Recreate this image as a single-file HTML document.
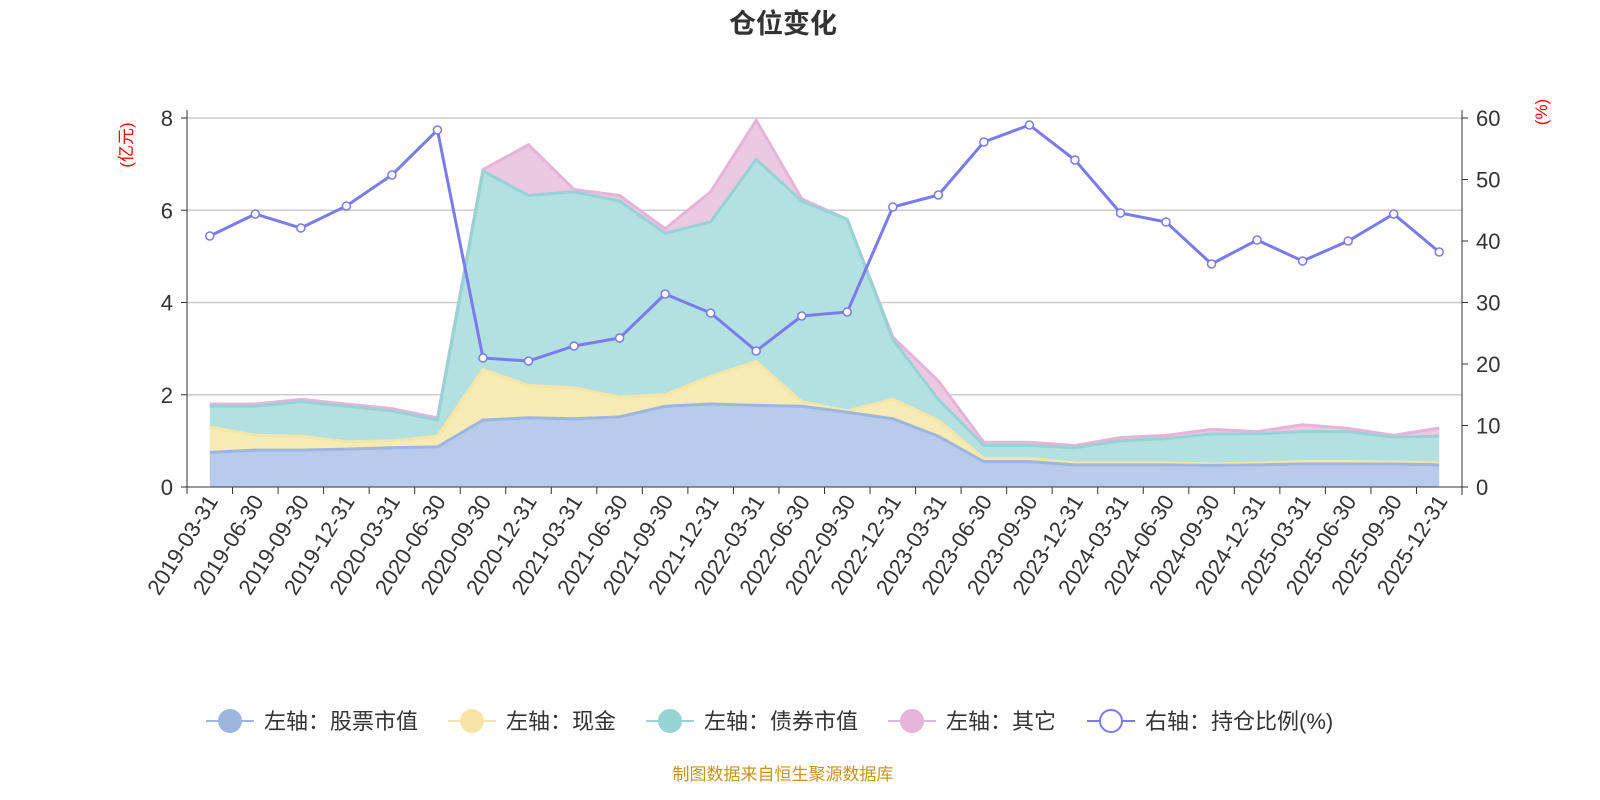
<!DOCTYPE html><html><head><meta charset="utf-8"><style>body{margin:0;background:#fff}svg{display:block}text{font-family:"Liberation Sans","Noto Sans CJK SC",sans-serif}</style></head><body>
<svg id="s" width="1600" height="800" xmlns="http://www.w3.org/2000/svg"></svg>
<script>
const s=document.getElementById('s');
const L=187,R=1462,T=118,B=487,N=28,st=(R-L)/N;
const X=i=>L+st*(i+0.5),Y=v=>B-v*(B-T)/8,YR=p=>B-p*(B-T)/60;
const stock=[0.75,0.8,0.8,0.82,0.85,0.87,1.45,1.5,1.48,1.52,1.75,1.8,1.77,1.75,1.62,1.48,1.1,0.55,0.55,0.48,0.48,0.48,0.47,0.48,0.5,0.5,0.5,0.48];
const cash=[1.3,1.12,1.1,0.98,1.0,1.1,2.55,2.2,2.15,1.95,2.0,2.4,2.72,1.85,1.65,1.9,1.45,0.62,0.62,0.52,0.52,0.52,0.5,0.52,0.55,0.55,0.54,0.52];
const bond=[1.75,1.75,1.85,1.75,1.65,1.45,6.85,6.32,6.4,6.2,5.5,5.75,7.1,6.2,5.8,3.2,1.9,0.9,0.9,0.85,1.0,1.05,1.15,1.15,1.2,1.2,1.08,1.1];
const oth=[1.8,1.8,1.9,1.8,1.7,1.5,6.88,7.42,6.45,6.32,5.6,6.4,7.95,6.25,5.8,3.25,2.3,0.97,0.97,0.9,1.07,1.12,1.25,1.2,1.35,1.27,1.12,1.28];
const ry=[236,214,228,206,175,130,358,361,346,338,294,313,351,316,312,207,195,142,125,160,213,222,264,240,261,241,214,252];
const lab=[];for(let y=2019;y<=2025;y++)for(const d of['03-31','06-30','09-30','12-31'])lab.push(y+'-'+d);
let h='';
h+=`<text x="783" y="33" text-anchor="middle" font-size="27" font-weight="bold" fill="#333">仓位变化</text>`;
for(let v=0;v<=8;v+=2){const y=Y(v);if(v>0)h+=`<line x1="${L}" x2="${R}" y1="${y}" y2="${y}" stroke="#ccc" stroke-width="1.5"/>`;
h+=`<text x="${L-14}" y="${y+8}" text-anchor="end" font-size="22" fill="#333">${v}</text><line x1="${L-6}" x2="${L}" y1="${y}" y2="${y}" stroke="#333"/>`;}
for(let p=0;p<=60;p+=10){const y=YR(p);h+=`<text x="${R+14}" y="${y+8}" font-size="22" fill="#333">${p}</text><line x1="${R}" x2="${R+6}" y1="${y}" y2="${y}" stroke="#333"/>`;}
h+=`<text transform="translate(132,145) rotate(-90)" text-anchor="middle" font-size="17" fill="red">(亿元)</text>`;
h+=`<text transform="translate(1547,112) rotate(-90)" text-anchor="middle" font-size="17" fill="red">(%)</text>`;
function area(top,bot,fill,line){let d='M'+top.map((v,i)=>X(i)+','+Y(v)).join('L');for(let i=N-1;i>=0;i--)d+='L'+X(i)+','+Y(bot?bot[i]:0);
h+=`<path d="${d}Z" fill="${fill}"/><polyline points="${top.map((v,i)=>X(i)+','+Y(v)).join(' ')}" fill="none" stroke="${line}" stroke-width="3"/>`;}
area(oth,bond,'#ecc9e2','#e5b4d8');area(bond,cash,'#b3e0e0','#96d3d3');area(cash,stock,'#f7ebb5','#f5e6a8');area(stock,null,'#b8cbea','#9db6e0');
h+=`<line x1="${L}" x2="${L}" y1="${T-8}" y2="${B}" stroke="#333"/><line x1="${R}" x2="${R}" y1="${T-8}" y2="${B+8}" stroke="#333"/><line x1="${L}" x2="${R}" y1="${B}" y2="${B}" stroke="#333"/>`;
for(let i=0;i<=N;i++){const x=L+st*i;h+=`<line x1="${x}" x2="${x}" y1="${B}" y2="${B+7}" stroke="#333"/>`;}
lab.forEach((t,i)=>{h+=`<text transform="translate(${X(i)+9},${B+14}) rotate(-58)" text-anchor="end" font-size="22" fill="#333">${t}</text>`;});
h+=`<polyline points="${ry.map((y,i)=>X(i)+','+y).join(' ')}" fill="none" stroke="#7b7bf0" stroke-width="3"/>`;
ry.forEach((y,i)=>h+=`<circle cx="${X(i)}" cy="${y}" r="4" fill="#fff" stroke="#7b7bf0" stroke-width="1.5"/>`);
const lg=[['左轴：股票市值','#9db6e0',true,230],['左轴：现金','#f5e6a8',true,472],['左轴：债券市值','#96d3d3',true,670],['左轴：其它','#e5b4d8',true,912],['右轴：持仓比例(%)','#7b7bf0',false,1111]];
lg.forEach(([t,c,f,x])=>{h+=`<line x1="${x-24}" x2="${x+24}" y1="721" y2="721" stroke="${c}" stroke-width="2"/><circle cx="${x}" cy="721" r="11" fill="${f?c:'#fff'}" stroke="${c}" stroke-width="2"/><text x="${x+34}" y="729" font-size="22" fill="#333">${t}</text>`;});
h+=`<text x="783" y="780" text-anchor="middle" font-size="17" fill="#c8941e">制图数据来自恒生聚源数据库</text>`;
s.innerHTML=h;
</script></body></html>
